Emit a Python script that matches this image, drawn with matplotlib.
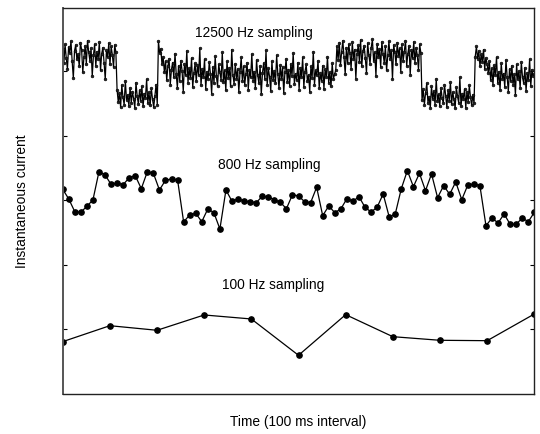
import numpy as np
import matplotlib
matplotlib.use("Agg")
import matplotlib.pyplot as plt

plt.rcParams['font.family'] = ['Liberation Sans', 'DejaVu Sans']

# ---- data (arbitrary current units) ----
# 12500 Hz trace, values in 1/100 units
top_raw = [
    # high level
    534, 512, 541, 520, 503, 537, 528, 546, 515, 489, 531, 540, 518, 526, 507, 544, 533, 498, 522, 539,
    511, 547, 529, 516, 535, 492, 524, 541, 508, 530, 519, 545, 501, 527, 536, 513, 487, 532, 521, 543,
    510, 538, 525, 506, 540, 529,
    # low level
    471, 452, 466, 444, 478, 459, 448, 485, 455, 463, 446, 474, 451, 468, 457, 443, 482, 461, 449, 470,
    454, 476, 445, 465, 458, 487, 450, 467, 447, 473, 456, 444, 462, 479, 448,
    # middle level
    546, 528, 534, 510, 522, 498, 515, 486, 507, 519, 479, 502, 513, 490, 527, 496, 474, 508, 485, 516,
    500, 468, 511, 493, 531, 482, 504, 489, 520, 475, 497, 512, 484, 509, 494, 535, 478, 503, 491, 518,
    472, 499, 487, 514, 495, 465, 506, 481, 523, 492, 477, 510, 498, 486, 529, 483, 501, 470, 515, 489,
    505, 476, 533, 494, 480, 511, 488, 503, 467, 498, 521, 484, 507, 479, 496, 513, 471, 502, 490, 526,
    485, 499, 474, 517, 493, 481, 508, 464, 497, 512, 487, 532, 478, 504, 491, 469, 515, 486, 500, 482,
    524, 495, 473, 509, 488, 506, 466, 498, 519, 483, 502, 477, 511, 492, 528, 480, 496, 486, 513, 471,
    505, 490, 521, 475, 499, 510, 484, 494, 468, 507, 489, 530, 479, 501, 493, 516, 474, 497, 485, 508,
    472, 503, 491, 522, 482, 498, 476, 512, 487, 495, 501,
    # high level
    538, 517, 544, 509, 530, 547, 522, 495, 536, 512, 541, 528, 503, 545, 519, 533, 488, 526, 540, 514,
    548, 507, 531, 539, 520, 497, 543, 525, 511, 536, 549, 516, 529, 492, 542, 521, 534, 506, 545, 527,
    513, 538, 501, 524, 546, 518, 532, 487, 540, 529, 510, 544, 523, 535, 499, 541, 515, 530, 547, 508,
    527, 539, 494, 533, 520, 545, 512, 536, 524, 502, 541, 528,
    # low level
    455, 472, 448, 466, 481, 451, 460, 443, 476, 457, 469, 447, 488, 453, 464, 445, 474, 458, 450, 479,
    462, 444, 470, 454, 483, 449, 467, 456, 442, 475, 461, 451, 490, 446, 465, 457, 472, 443, 468, 452,
    478, 459, 447, 463, 450,
    # middle level
    522, 538, 519, 531, 507, 526, 514, 533, 503, 520, 511, 497,
    515, 486, 504, 478, 509, 493, 521, 482, 499, 470, 512, 488, 496, 475, 517, 491, 468, 503, 484, 508,
    479, 495, 463, 510, 487, 500, 473, 514, 490, 481, 505, 469, 497, 486, 518, 477, 502, 492, 495,
]

# 800 Hz trace
mid_values = [
    3.169, 3.019, 2.822, 2.813, 2.906, 3.003, 3.441, 3.390, 3.246, 3.266,
    3.240, 3.348, 3.379, 3.178, 3.441, 3.416, 3.158, 3.308, 3.328, 3.313,
    2.663, 2.771, 2.797, 2.667, 2.864, 2.807, 2.554, 3.158, 2.983, 3.019,
    2.988, 2.977, 2.961, 3.060, 3.050, 3.008, 2.967, 2.868, 3.085, 3.065,
    2.977, 2.961, 3.200, 2.760, 2.910, 2.807, 2.864, 3.023, 2.983, 3.054,
    2.890, 2.817, 2.890, 3.096, 2.740, 2.786, 3.178, 3.457, 3.209, 3.416,
    3.147, 3.406, 3.039, 3.224, 3.091, 3.282, 3.008, 3.235, 3.251, 3.224,
    2.605, 2.724, 2.647, 2.786, 2.627, 2.627, 2.724, 2.667, 2.812,
]

# 100 Hz trace
low_values = [0.810, 1.057, 0.986, 1.223, 1.161, 0.599, 1.228, 0.887, 0.831, 0.825, 1.238]

labels = ["12500 Hz sampling", "800 Hz sampling", "100 Hz sampling"]
y_ticks = [1, 2, 3, 4, 5]

top_values = np.array(top_raw) / 100.0
x_top = np.linspace(0, 100, len(top_values))
x_mid = np.linspace(0, 100, len(mid_values))
x_low = np.linspace(0, 100, len(low_values))

fig = plt.figure(figsize=(5.4, 4.34), dpi=100)
ax = fig.add_axes([0.1161, 0.0922, 0.8734, 0.8887])

ax.plot(x_top, top_values, color='black', lw=0.9, marker='o', ms=2.0,
        mew=0.4, mfc='#222222', mec='black')
ax.plot(x_mid, mid_values, color='black', lw=0.9, marker='o', ms=3.8, mec='black', mfc='black')
ax.plot(x_low, low_values, color='black', lw=0.9, marker='o', ms=3.8, mec='black', mfc='black')

ax.set_xlim(0, 100)
ax.set_ylim(0, 5.97)
ax.set_xticks([])
ax.set_yticks(y_ticks)
ax.set_yticklabels([])
ax.tick_params(axis='y', which='both', direction='in', length=3, width=0.8,
               left=True, right=True, labelleft=False)
for s in ax.spines.values():
    s.set_linewidth(1.0)
    s.set_color('#222222')
ax.spines['left'].set_color('#555555')
ax.spines['left'].set_linewidth(1.4)

fs = 9.9
ax.text(28.05, 5.59, labels[0], fontsize=fs, va='center', ha='left')
ax.text(33.0, 3.545, labels[1], fontsize=fs, va='center', ha='left')
ax.text(33.7, 1.687, labels[2], fontsize=fs, va='center', ha='left')

fig.text(0.04, 0.537, "Instantaneous current", rotation=90, fontsize=fs,
         ha='center', va='center')
fig.text(0.5525, 0.0276, "Time (100 ms interval)", fontsize=fs, ha='center', va='center')

fig.savefig("out.png", dpi=100)
